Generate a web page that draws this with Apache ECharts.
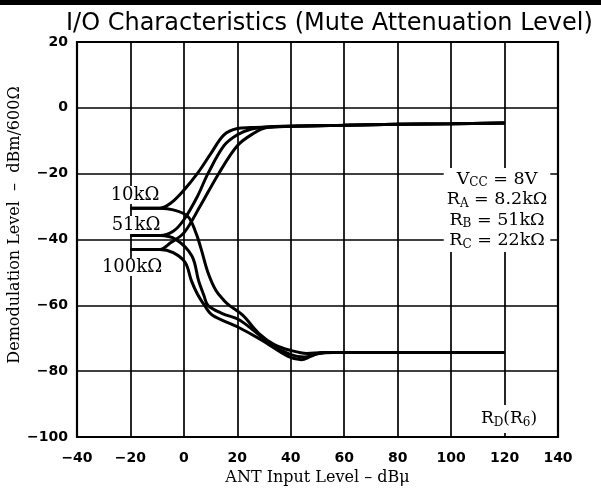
<!DOCTYPE html>
<html>
<head>
<meta charset="utf-8">
<script src="https://cdn.jsdelivr.net/npm/echarts@6/dist/echarts.min.js"></script>
<style>html,body{margin:0;padding:0;background:#fff;}#c{width:601px;height:488px;}</style>
</head>
<body>
<div id="c"></div>
<script>
// X / Y tick settings
const xTicks = [-40, -20, 0, 20, 40, 60, 80, 100, 120, 140];
const yTicks = [-100, -80, -60, -40, -20, 0, 20];

// Rising branches (upper)
const x10Up = [-20, -9, -5, 0, 5, 10, 15, 20, 25, 31, 40, 60, 80, 100, 120];
const y10Up = [-30.5, -30.5, -29, -25, -20, -14, -8.2, -6.3, -6, -5.8, -5.6, -5.3, -5, -4.8, -4.6];
const x51Up = [-20, -9, -4, 0, 5, 9, 15, 20, 25, 31, 40, 60, 80, 100, 120];
const y51Up = [-38.8, -38.8, -37.5, -34, -27, -20, -11.5, -8.2, -6.5, -5.8, -5.6, -5.3, -5, -4.8, -4.6];
const x100Up = [-20, -9, -5, 0, 6, 13, 20, 26, 31, 40, 60, 80, 100, 120];
const y100Up = [-43, -43, -41, -38, -30, -20, -11.5, -7.8, -6, -5.6, -5.3, -5, -4.8, -4.6];

// Falling branches (lower)
const x10Dn = [-20, -9, -4, 1.5, 4.5, 6.5, 9, 12, 15, 17, 22, 28, 34, 40, 46, 52, 60, 80, 100, 120];
const y10Dn = [-30.5, -30.5, -31, -33, -38, -43, -50, -55.5, -58.5, -60, -63, -68.5, -72, -73.7, -74.6, -74.3, -74.3, -74.3, -74.3, -74.3];
const x51Dn = [-20, -9, -3, 3, 5.5, 7.5, 9, 14.4, 20.5, 26.6, 32.7, 40, 45, 50, 56, 60, 80, 100, 120];
const y51Dn = [-38.8, -38.8, -40, -45, -52.5, -57, -60, -62.5, -64.3, -68, -72, -75, -75.7, -74.7, -74.3, -74.3, -74.3, -74.3, -74.3];
const x100Dn = [-20, -9, -4, 0.5, 2.8, 5, 7.7, 10.7, 20, 29, 39, 44, 47.5, 52, 60, 80, 100, 120];
const y100Dn = [-43, -43, -44, -47, -52.5, -56.5, -60, -63, -66.5, -70.5, -75.5, -76.5, -75.5, -74.3, -74.3, -74.3, -74.3, -74.3];

const pairs = (xs, ys) => xs.map((x, i) => [x, ys[i]]);
const serif = 'DejaVu Serif';

const chart = echarts.init(document.getElementById('c'), null, {renderer: 'canvas'});
const lineSeries = (xs, ys) => ({
  type: 'line', data: pairs(xs, ys), smooth: 0.35, showSymbol: false, symbol: 'none',
  lineStyle: {color: '#000', width: 3}, z: 3, animation: false
});
const tickFmt = v => String(v).replace('-', '−');

chart.setOption({
  animation: false,
  backgroundColor: '#fff',
  title: {
    text: 'I/O Characteristics (Mute Attenuation Level)',
    left: 61, top: 7,
    textStyle: {fontFamily: 'DejaVu Sans', fontSize: 24, fontWeight: 'normal', color: '#000'}
  },
  grid: {left: 77, right: 43, top: 42, bottom: 51, show: true, borderColor: '#000', borderWidth: 2.2,
    containLabel: false, outerBoundsMode: 'none'},
  xAxis: {
    type: 'value', min: xTicks[0], max: xTicks[xTicks.length - 1], interval: 20,
    name: 'ANT Input Level – dBμ', nameLocation: 'middle', nameGap: 33,
    nameTextStyle: {fontFamily: serif, fontSize: 16, color: '#000'},
    axisLine: {show: false}, axisTick: {show: false},
    axisLabel: {margin: 14, color: '#000', fontFamily: 'DejaVu Sans', fontWeight: 'bold', fontSize: 14,
      formatter: tickFmt},
    splitLine: {show: true, lineStyle: {color: '#000', width: 1.7}}
  },
  yAxis: {
    type: 'value', min: yTicks[0], max: yTicks[yTicks.length - 1], interval: 20,
    axisLine: {show: false}, axisTick: {show: false},
    axisLabel: {margin: 9, color: '#000', fontFamily: 'DejaVu Sans', fontWeight: 'bold', fontSize: 14,
      formatter: tickFmt},
    splitLine: {show: true, lineStyle: {color: '#000', width: 1.7}}
  },
  series: [
    lineSeries(x10Up, y10Up), lineSeries(x51Up, y51Up), lineSeries(x100Up, y100Up),
    lineSeries(x10Dn, y10Dn), lineSeries(x51Dn, y51Dn), lineSeries(x100Dn, y100Dn)
  ],
  graphic: [
    {type: 'rect', shape: {x: 0, y: 0, width: 601, height: 5}, style: {fill: '#000'}},
    {type: 'text', x: 15, y: 225, rotation: Math.PI / 2, z: 10,
      style: {text: 'Demodulation Level  –  dBm/600Ω', font: '16px "DejaVu Serif"', fill: '#000',
        textAlign: 'center', textVerticalAlign: 'middle'}},
    {type: 'text', x: 135, y: 195, z: 10,
      style: {text: '10kΩ', font: '18px "DejaVu Serif"', fill: '#000', textAlign: 'center', textVerticalAlign: 'middle',
        backgroundColor: '#fff', padding: [0, 1]}},
    {type: 'text', x: 136, y: 225, z: 10,
      style: {text: '51kΩ', font: '18px "DejaVu Serif"', fill: '#000', textAlign: 'center', textVerticalAlign: 'middle',
        backgroundColor: '#fff', padding: [0, 1]}},
    {type: 'text', x: 132, y: 267, z: 10,
      style: {text: '100kΩ', font: '18px "DejaVu Serif"', fill: '#000', textAlign: 'center', textVerticalAlign: 'middle',
        backgroundColor: '#fff', padding: [0, 1]}},
    {type: 'text', x: 497, y: 210, z: 10,
      style: {
        text: '{m|V}{s|CC}{m| = 8V}\n{m|R}{s|A}{m| = 8.2kΩ}\n{m|R}{s|B}{m| = 51kΩ}\n{m|R}{s|C}{m| = 22kΩ}',
        textAlign: 'center', textVerticalAlign: 'middle', backgroundColor: '#fff', padding: [1, 3],
        rich: {
          m: {font: '17.5px "DejaVu Serif"', fill: '#000', lineHeight: 20.5},
          s: {font: '12px "DejaVu Serif"', fill: '#000', lineHeight: 20.5, padding: [8, 0, 0, 0]}
        }
      }},
    {type: 'text', x: 509, y: 419, z: 10,
      style: {
        text: '{m|R}{s|D}{m|(R}{s|6}{m|)}',
        textAlign: 'center', textVerticalAlign: 'middle', backgroundColor: '#fff', padding: [4, 3],
        rich: {
          m: {font: '17px "DejaVu Serif"', fill: '#000', lineHeight: 20},
          s: {font: '12px "DejaVu Serif"', fill: '#000', lineHeight: 20, padding: [8, 0, 0, 0]}
        }
      }}
  ]
});
</script>
</body>
</html>
